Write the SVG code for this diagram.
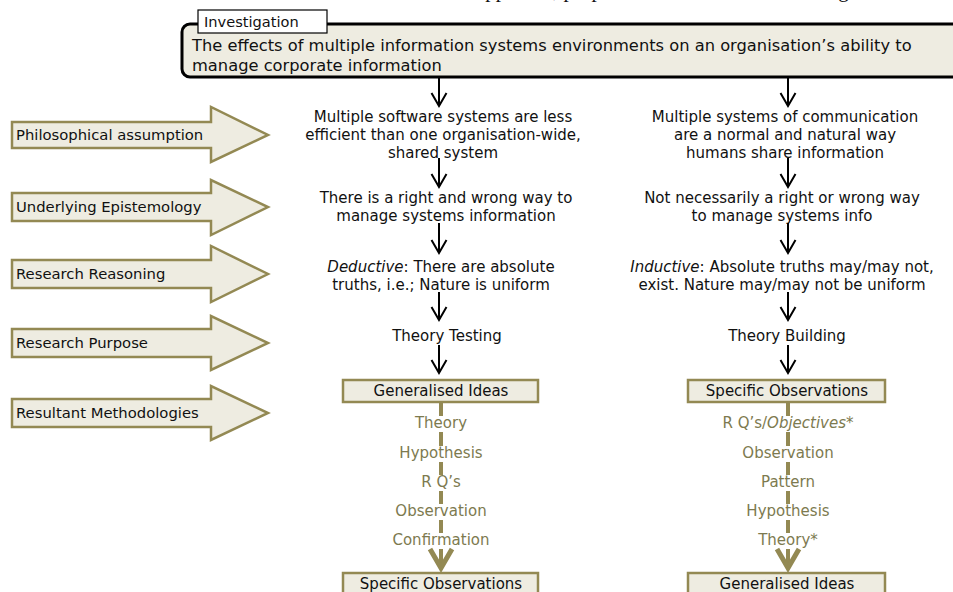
<svg xmlns="http://www.w3.org/2000/svg" width="953" height="592" viewBox="0 0 953 592">
<style>
text{font-family:"DejaVu Sans","Verdana",sans-serif;font-size:15px;fill:#111}
.c{text-anchor:middle}
.ol{fill:#7d7a4f}
.lbl{font-size:14.8px}
.main{font-size:16.3px}
.arr{fill:#eeece1;stroke:#938953;stroke-width:2.5}
.bx{fill:#eeece1;stroke:#938953;stroke-width:2.5}
.con{stroke:#000;stroke-width:2;fill:none}
.dash{stroke:#938953;stroke-width:4;fill:none}
.big{stroke:#938953;stroke-width:5;fill:none}
</style>
<defs>
<marker id="ah" markerUnits="userSpaceOnUse" orient="auto" overflow="visible" markerWidth="20" markerHeight="20">
<path d="M-13,-7.5 L0,0 L-13,7.5" fill="none" stroke="#000" stroke-width="2"/>
</marker>
</defs>
<rect width="953" height="592" fill="#fff"/>
<text x="476" y="-3" style="font-family:'Liberation Serif',serif;font-size:21px">approach, purpose and resultant methodologies</text>

<g id="investigation">
<rect x="182" y="24" width="790" height="53" rx="8" ry="8" fill="#eeece1" stroke="#000" stroke-width="3"/>
<rect x="198" y="10" width="129" height="23" fill="#fff" stroke="#000" stroke-width="1.2"/>
<text x="204" y="27" style="font-size:14.6px">Investigation</text>
<text class="main" x="192" y="51">The effects of multiple information systems environments on an organisation’s ability to</text>
<text class="main" x="192" y="71">manage corporate information</text>
</g>

<g id="arrow-philosophical">
<path class="arr" d="M12,122 H211 V107 L268,135 L211,162 V148 H12 Z"/>
<text class="lbl" x="16" y="140">Philosophical assumption</text>
</g>
<g id="arrow-epistemology">
<path class="arr" d="M12,193 H211 V180 L268,207 L211,235 V221 H12 Z"/>
<text class="lbl" x="16" y="212">Underlying Epistemology</text>
</g>
<g id="arrow-reasoning">
<path class="arr" d="M12,260 H211 V246 L268,274 L211,302 V288 H12 Z"/>
<text class="lbl" x="16" y="279">Research Reasoning</text>
</g>
<g id="arrow-purpose">
<path class="arr" d="M12,329 H211 V316 L268,343 L211,370 V357 H12 Z"/>
<text class="lbl" x="16" y="348">Research Purpose</text>
</g>
<g id="arrow-methodologies">
<path class="arr" d="M12,399 H211 V386 L268,413 L211,440 V427 H12 Z"/>
<text class="lbl" x="16" y="418">Resultant Methodologies</text>
</g>

<g id="L1">
<text class="c" x="443" y="122">Multiple software systems are less</text>
<text class="c" x="443" y="140">efficient than one organisation-wide,</text>
<text class="c" x="443" y="158">shared system</text>
</g>
<g id="L2">
<text class="c" x="446" y="203">There is a right and wrong way to</text>
<text class="c" x="446" y="221">manage systems information</text>
</g>
<g id="L3">
<text class="c" x="441" y="272"><tspan font-style="italic">Deductive</tspan>: There are absolute</text>
<text class="c" x="441" y="290">truths, i.e.; Nature is uniform</text>
</g>
<g id="L4">
<text class="c" x="447" y="341">Theory Testing</text>
</g>
<g id="L5">
<rect class="bx" x="343" y="380" width="195" height="22"/>
<text class="c" x="441" y="396">Generalised Ideas</text>
</g>
<g id="L-steps">
<text class="c ol" x="441" y="428">Theory</text>
<text class="c ol" x="441" y="458">Hypothesis</text>
<text class="c ol" x="441" y="487">R Q’s</text>
<text class="c ol" x="441" y="516">Observation</text>
<text class="c ol" x="441" y="545">Confirmation</text>
</g>
<g id="L6">
<rect class="bx" x="343" y="573" width="195" height="30"/>
<text class="c" x="441" y="589">Specific Observations</text>
</g>

<g id="R1">
<text class="c" x="785" y="122">Multiple systems of communication</text>
<text class="c" x="785" y="140">are a normal and natural way</text>
<text class="c" x="785" y="158">humans share information</text>
</g>
<g id="R2">
<text class="c" x="782" y="203">Not necessarily a right or wrong way</text>
<text class="c" x="782" y="221">to manage systems info</text>
</g>
<g id="R3">
<text class="c" x="782" y="272"><tspan font-style="italic">Inductive</tspan>: Absolute truths may/may not,</text>
<text class="c" x="782" y="290">exist. Nature may/may not be uniform</text>
</g>
<g id="R4">
<text class="c" x="787" y="341">Theory Building</text>
</g>
<g id="R5">
<rect class="bx" x="688" y="380" width="197" height="22"/>
<text class="c" x="787" y="396">Specific Observations</text>
</g>
<g id="R-steps">
<text class="c ol" x="788" y="428">R Q’s/<tspan font-style="italic">Objectives</tspan>*</text>
<text class="c ol" x="788" y="458">Observation</text>
<text class="c ol" x="788" y="487">Pattern</text>
<text class="c ol" x="788" y="516">Hypothesis</text>
<text class="c ol" x="788" y="545">Theory*</text>
</g>
<g id="R6">
<rect class="bx" x="688" y="573" width="197" height="30"/>
<text class="c" x="787" y="589">Generalised Ideas</text>
</g>

<g id="connectors">
<line class="con" x1="439" y1="78" x2="439" y2="106" marker-end="url(#ah)"/>
<line class="con" x1="439" y1="158" x2="439" y2="187" marker-end="url(#ah)"/>
<line class="con" x1="439" y1="223" x2="439" y2="253" marker-end="url(#ah)"/>
<line class="con" x1="439" y1="292" x2="439" y2="320" marker-end="url(#ah)"/>
<line class="con" x1="439" y1="345" x2="439" y2="373" marker-end="url(#ah)"/>
<line class="con" x1="788" y1="78" x2="788" y2="106" marker-end="url(#ah)"/>
<line class="con" x1="788" y1="158" x2="788" y2="187" marker-end="url(#ah)"/>
<line class="con" x1="788" y1="223" x2="788" y2="253" marker-end="url(#ah)"/>
<line class="con" x1="788" y1="292" x2="788" y2="320" marker-end="url(#ah)"/>
<line class="con" x1="788" y1="345" x2="788" y2="373" marker-end="url(#ah)"/>
<path class="dash" d="M441,403 V416 M441,432 V446 M441,462 V475 M441,491 V504 M441,520 V533 M441,549 V566"/>
<path class="big" d="M430,549 L441,568 L452,549"/>
<path class="dash" d="M788,403 V416 M788,432 V446 M788,462 V475 M788,491 V504 M788,520 V533 M788,549 V566"/>
<path class="big" d="M777,549 L788,568 L799,549"/>
</g>
</svg>
